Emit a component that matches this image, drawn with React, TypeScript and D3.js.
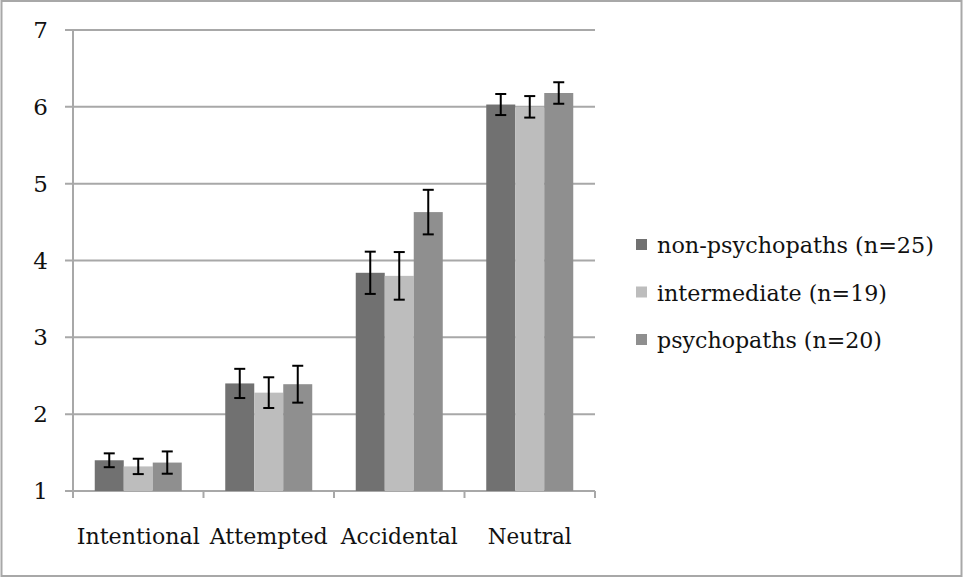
import React from "react";
import * as d3 from "d3";

const categories = ["Intentional", "Attempted", "Accidental", "Neutral"];
const seriesNames = ["non-psychopaths (n=25)", "intermediate (n=19)", "psychopaths (n=20)"];
const nonPsychopaths = [1.40, 2.40, 3.84, 6.03];
const nonPsychopathsErr = [0.09, 0.19, 0.275, 0.137];
const intermediate = [1.32, 2.28, 3.80, 6.00];
const intermediateErr = [0.10, 0.20, 0.31, 0.14];
const psychopaths = [1.37, 2.39, 4.63, 6.18];
const psychopathsErr = [0.145, 0.24, 0.29, 0.14];
const yTicks = [1, 2, 3, 4, 5, 6, 7];
const colors = ["#717171", "#bdbdbd", "#8f8f8f"];

const values = [nonPsychopaths, intermediate, psychopaths];
const errors = [nonPsychopathsErr, intermediateErr, psychopathsErr];

const W = 964;
const H = 578;
const left = 73;
const right = 595;
const top = 30;
const bottom = 491;
const font = "'DejaVu Serif', serif";

export default function App() {
  const y = d3.scaleLinear().domain([1, 7]).range([bottom, top]);
  const x0 = d3.scaleBand<string>().domain(categories).range([left, right]).padding(0);
  const x1 = d3
    .scaleBand<string>()
    .domain(seriesNames)
    .range([0, x0.bandwidth()])
    .paddingInner(0)
    .paddingOuter(0.75);
  const grid = "#a8a8a8";
  const catLens = [123, 118, 117, 84];
  return (
    <svg
      width={W}
      height={H}
      style={{ position: "absolute", left: 0, top: 0, background: "#fff" }}
    >
      <rect x={1.5} y={1} width={W - 4} height={H - 3} fill="#fff" stroke="#a8a8a8" strokeWidth={2} />
      {yTicks.map((t) => (
        <g key={t}>
          <line x1={65} x2={right} y1={y(t)} y2={y(t)} stroke={grid} strokeWidth={2} />
          <text
            x={48}
            y={y(t) + 8}
            textAnchor="end"
            fontFamily={font}
            fontSize={23}
            fill="#111"
          >
            {t}
          </text>
        </g>
      ))}
      <line x1={left} x2={left} y1={top} y2={bottom + 7} stroke={grid} strokeWidth={2} />
      {[...categories.map((c) => x0(c) as number), right].map((px, i) => (
        <line key={i} x1={px} x2={px} y1={bottom} y2={bottom + 7} stroke={grid} strokeWidth={2} />
      ))}
      {categories.map((c, ci) => (
        <g key={c}>
          {seriesNames.map((s, si) => {
            const bx = (x0(c) as number) + (x1(s) as number);
            const bw = x1.bandwidth();
            const v = values[si][ci];
            const e = errors[si][ci];
            const cx = bx + bw / 2;
            return (
              <g key={s}>
                <rect x={bx} y={y(v)} width={bw} height={y(1) - y(v)} fill={colors[si]} />
                <line x1={cx} x2={cx} y1={y(v + e)} y2={y(v - e)} stroke="#000" strokeWidth={2} />
                <line x1={cx - 5.5} x2={cx + 5.5} y1={y(v + e)} y2={y(v + e)} stroke="#000" strokeWidth={2} />
                <line x1={cx - 5.5} x2={cx + 5.5} y1={y(v - e)} y2={y(v - e)} stroke="#000" strokeWidth={2} />
              </g>
            );
          })}
          <text
            x={(x0(c) as number) + x0.bandwidth() / 2}
            y={544}
            textAnchor="middle"
            fontFamily={font}
            fontSize={22}
            fill="#111"
            textLength={catLens[ci]}
            lengthAdjust="spacingAndGlyphs"
          >
            {c}
          </text>
        </g>
      ))}
      {seriesNames.map((s, si) => {
        const ly = 245 + si * 47.5;
        const lens = [277, 230, 225];
        return (
          <g key={s}>
            <rect x={636} y={ly - 6} width={11} height={11} fill={colors[si]} />
            <text
              x={657}
              y={ly + 8}
              fontFamily={font}
              fontSize={22}
              fill="#111"
              textLength={lens[si]}
              lengthAdjust="spacingAndGlyphs"
            >
              {s}
            </text>
          </g>
        );
      })}
    </svg>
  );
}
